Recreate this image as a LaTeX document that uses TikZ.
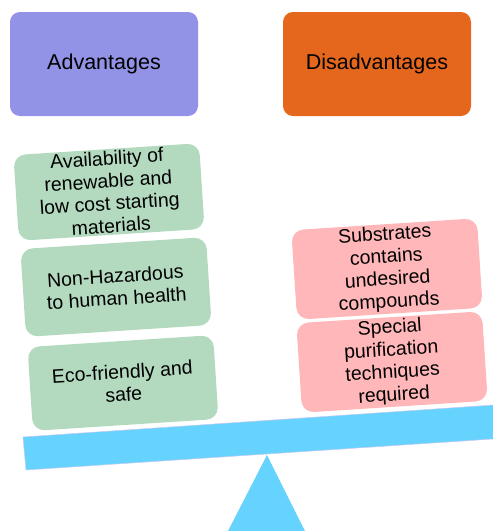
\documentclass[tikz,border=0pt]{standalone}
\usepackage{fontspec}
\setmainfont{Liberation Sans}
\definecolor{advc}{HTML}{9292E6}
\definecolor{disc}{HTML}{E5671E}
\definecolor{greenc}{HTML}{B3D9BF}
\definecolor{pinkc}{HTML}{FFB7B9}
\definecolor{beamc}{HTML}{66D3FF}
\definecolor{beamedge}{HTML}{C8C8F0}
\begin{document}
\begin{tikzpicture}[x=1pt,y=-1pt,
  headbox/.style={rounded corners=10pt, minimum width=188pt, minimum height=104pt,
    inner sep=0pt, font=\fontsize{21.5}{25}\selectfont, text=black},
  itembox/.style={rounded corners=12pt, minimum width=186pt, inner sep=2pt,
    align=center, rotate=3.7, font=\fontsize{19.5}{22.5}\selectfont, text=black},
  probox/.style={itembox, fill=greenc},
  conbox/.style={itembox, fill=pinkc}]
\useasboundingbox (0,0) rectangle (493,531);
\begin{scope}
\clip (0,0) rectangle (493,531);
\fill[beamc] (267,455) -- (212.6,561) -- (320,561) -- cycle;
\path[fill=beamc, draw=beamedge, line width=0.5pt] (23,437) -- (26,470) -- (520,437.2) -- (520,403.2) -- cycle;
\end{scope}
\node[headbox, fill=advc] (adv) at (104,64) {Advantages};
\node[headbox, fill=disc] (dis) at (377,64) {Disadvantages};
\node[probox, minimum height=85pt] (a1) at (109,192) {Availability of\\renewable and\\low cost starting\\materials};
\node[probox, minimum height=88pt] (a2) at (116,287) {Non-Hazardous\\to human health};
\node[probox, minimum height=84pt] (a3) at (123,383) {Eco-friendly and\\safe};
\node[conbox, minimum height=82pt] (d1) at (387,269) {Substrates\\contains\\undesired\\compounds};
\node[conbox, minimum height=84pt] (d2) at (392,362) {Special\\purification\\techniques\\required};
\end{tikzpicture}
\end{document}
